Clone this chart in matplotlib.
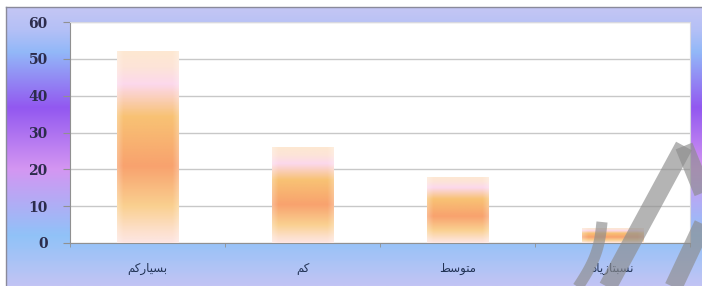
import numpy as np
import matplotlib
matplotlib.use("Agg")
import matplotlib.pyplot as plt
from matplotlib.colors import LinearSegmentedColormap
from matplotlib.lines import Line2D

# Persian labels in Arabic presentation forms (visual order), since matplotlib does no shaping
categories = ["بسیارکم", "کم", "متوسط", "نسبتاًزیاد"]
labels_visual = [
  "\uFEE2\uFB90\uFEAD\uFE8E\uFBFF\uFEB4\uFE91",
  "\uFEE2\uFB90",
  "\uFEC2\uFEB3\uFEEE\uFE98\uFEE3",
  "\uFEA9\uFE8E\uFBFE\uFEAF\uFE8E\uFE98\uFE92\uFEB4\uFEE7",
]
values = [52, 26, 18, 4]
yticks = [0, 10, 20, 30, 40, 50, 60]

W, H = 702, 286
fig = plt.figure(figsize=(W / 100, H / 100), dpi=100)
fig.patch.set_facecolor("white")

# background gradient (vertical)
bg = fig.add_axes([6 / W, 0, 1 - 6 / W, (H - 7) / H])
bg_cmap = LinearSegmentedColormap.from_list("bg", [
  (0.0, "#c4c6f4"), (0.08, "#b4c0f6"), (0.16, "#92b8f8"),
  (0.36, "#9258f0"), (0.58, "#d496f2"), (0.82, "#90c2f8"),
  (1.0, "#c2c4f4")])
grad = np.linspace(0, 1, 256).reshape(-1, 1)
bg.imshow(grad, aspect="auto", cmap=bg_cmap, extent=[0, 1, 1, 0])
bg.set_xlim(0, 1)
bg.set_ylim(1, 0)
bg.axis("off")
fig.add_artist(Line2D([6 / W, 6 / W], [0, (H - 7) / H], color="#8a8a9a", lw=1))
fig.add_artist(Line2D([6 / W, 1], [(H - 7) / H, (H - 7) / H], color="#8a8a9a", lw=1))

ax = fig.add_axes([70 / W, 1 - 243 / H, 620 / W, 221 / H])
ax.set_facecolor("white")
x = np.arange(len(values))
bars = ax.bar(x, values, width=0.4, color="none", zorder=3)
ax.set_xlim(-0.5, len(values) - 0.5)
ax.set_ylim(0, 60)

bar_cmap = LinearSegmentedColormap.from_list("bar", [
  (0.0, "#fde6e2"), (0.06, "#fde0cc"), (0.19, "#fad090"), (0.40, "#f8a26e"),
  (0.66, "#f8c274"), (0.83, "#fcd8ec"), (0.92, "#fde4d8"),
  (1.0, "#fde8d2")])
g = np.linspace(0, 1, 200).reshape(-1, 1)
edge = np.linspace(-1, 1, 60)
whiten = 0.25 * np.clip(np.abs(edge) - 0.8, 0, None) / 0.2
img = bar_cmap(np.repeat(g, 60, axis=1))[:, :, :3]
img = img + (1 - img) * whiten[None, :, None]
for b in bars:
  x0, w, h = b.get_x(), b.get_width(), b.get_height()
  im = ax.imshow(img, extent=[x0, x0 + w, 0, h], origin="lower",
                 aspect="auto", zorder=3)
  im.set_clip_path(b)

ax.set_yticks(yticks)
ax.set_yticklabels([str(t) for t in yticks], family="DejaVu Serif",
                   fontweight="bold", fontsize=10, color="#2c2c4c")
ax.yaxis.grid(True, color="#c8c8c8", lw=1)
ax.set_axisbelow(True)
ax.tick_params(axis="y", length=5, color="#909090", pad=11)
ax.set_xticks(x)
ax.set_xticklabels(labels_visual, family=["DejaVu Sans"], fontsize=8.5,
                   color="#223355")
ax.tick_params(axis="x", length=0, pad=14)
ax.set_xticks(np.arange(len(values) + 1) - 0.5, minor=True)
ax.tick_params(axis="x", which="minor", length=3, color="#909090")
for s in ["left", "bottom"]:
  ax.spines[s].set_color("#909090")
for s in ["top", "right"]:
  ax.spines[s].set_color("#d8d8e0")

# watermark strokes
wm = dict(color="#8c8c8c", alpha=0.65, lw=13, solid_capstyle="butt", zorder=10)
def px(xp, yp):
  return xp / W, 1 - yp / H
for (a, b_) in [((684, 146), (606, 290)), ((684, 146), (708, 205)),
                ((704, 222), (672, 290))]:
  (xa, ya), (xb, yb) = px(*a), px(*b_)
  fig.add_artist(Line2D([xa, xb], [ya, yb], **wm))
t = np.linspace(0, 1, 30)
cx = 576 + 26 * t + 6 * np.sin(t * np.pi)
cy = 290 - 68 * t
fig.add_artist(Line2D(cx / W, 1 - cy / H, color="#8c8c8c", alpha=0.65, lw=8,
                      solid_capstyle="butt", zorder=10))

fig.savefig("out.png", dpi=100)
